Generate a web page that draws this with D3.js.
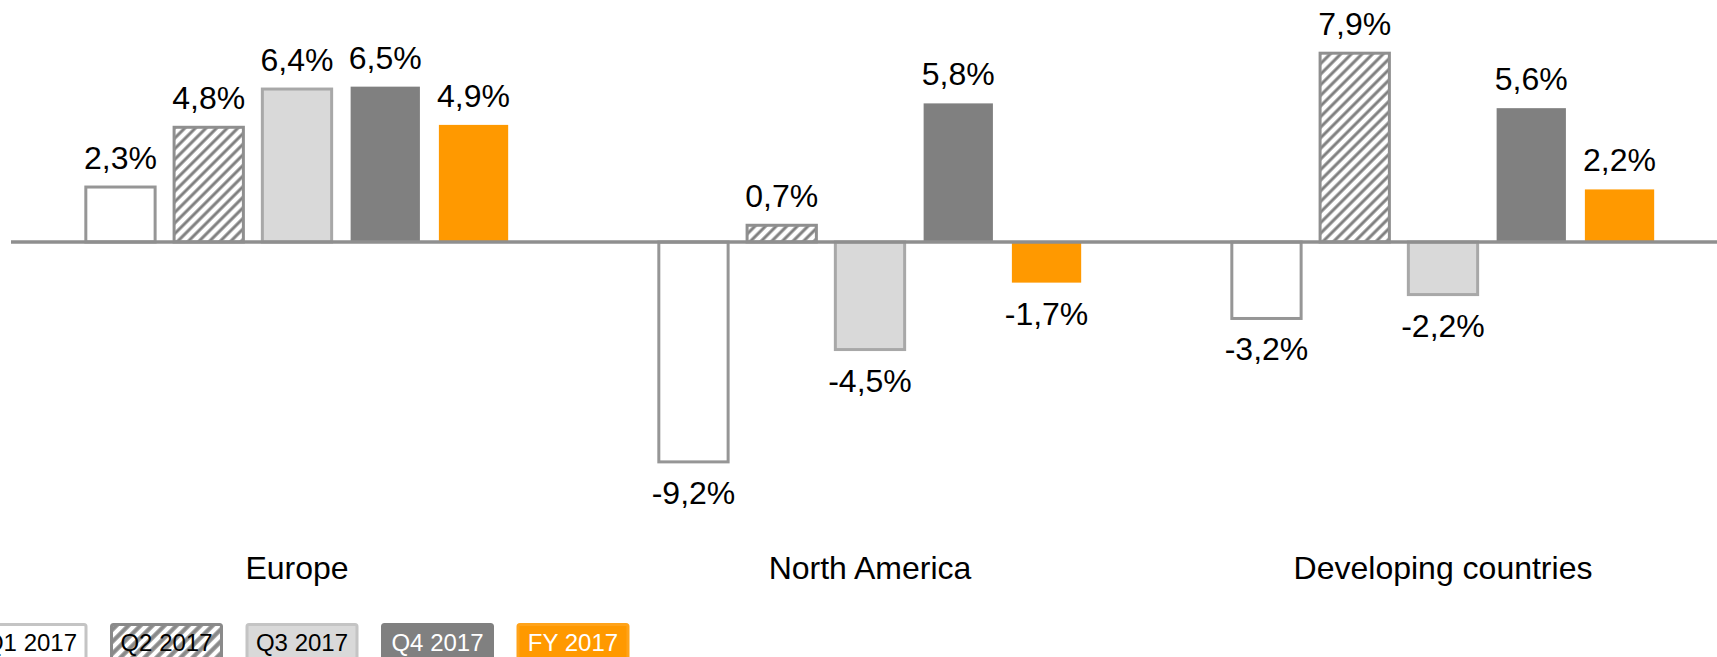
<!DOCTYPE html>
<html>
<head>
<meta charset="utf-8">
<script src="https://cdn.jsdelivr.net/npm/d3@7/dist/d3.min.js"></script>
<style>
  html, body { margin: 0; padding: 0; background: #ffffff; overflow: hidden; }
  svg { display: block; font-family: "Liberation Sans", Arial, sans-serif; }
</style>
</head>
<body>
<svg id="chart" width="1717" height="657"></svg>
<script>
// Regions on the category axis
const regions = ["Europe", "North America", "Developing countries"];
// Reporting periods (one bar per period within each region)
const periods = ["Q1 2017", "Q2 2017", "Q3 2017", "Q4 2017", "FY 2017"];
// Growth in percent, one array per period, ordered like `regions`
const q1_2017 = [2.3, -9.2, -3.2];
const q2_2017 = [4.8, 0.7, 7.9];
const q3_2017 = [6.4, -4.5, -2.2];
const q4_2017 = [6.5, 5.8, 5.6];
const fy_2017 = [4.9, -1.7, 2.2];
const seriesValues = [q1_2017, q2_2017, q3_2017, q4_2017, fy_2017];

const W = 1717, H = 657;
const svg = d3.select("#chart");

// Bar styles per period
const styles = [
  { fill: "#ffffff", stroke: "#969696", sw: 3, legendStroke: "#c4c4c4", text: "#000000" },
  { fill: "url(#hatchBar)", stroke: "#8f8f8f", sw: 3, legendFill: "url(#hatchLegend)", legendStroke: "#8a8a8a", text: "#000000" },
  { fill: "#d9d9d9", stroke: "#a8a8a8", sw: 3, legendStroke: "#c4c4c4", text: "#000000" },
  { fill: "#808080", stroke: "none", sw: 0, legendStroke: "#808080", text: "#ffffff" },
  { fill: "#ff9900", stroke: "none", sw: 0, legendStroke: "#ffa31a", text: "#ffffff" }
];

// Diagonal hatch patterns
const defs = svg.append("defs");
function hatch(id, spacing, width, color) {
  const p = defs.append("pattern")
    .attr("id", id)
    .attr("patternUnits", "userSpaceOnUse")
    .attr("width", spacing)
    .attr("height", spacing)
    .attr("patternTransform", "rotate(45)");
  p.append("rect").attr("width", spacing).attr("height", spacing).attr("fill", "#ffffff");
  p.append("line")
    .attr("x1", spacing / 2).attr("y1", 0)
    .attr("x2", spacing / 2).attr("y2", spacing)
    .attr("stroke", color).attr("stroke-width", width);
}
hatch("hatchBar", 7.5, 3, "#7f7f7f");
hatch("hatchLegend", 8.5, 4.2, "#8a8a8a");

// Scales
const x0 = d3.scaleBand().domain(regions).range([10.5, 1729.5]);
const x1 = d3.scaleBand().domain(periods).range([0, 440]).paddingInner(0.215).paddingOuter(0.1);
const y = d3.scaleLinear().domain([-10, 10]).range([481, 3]);

// Flatten into drawable records
const records = [];
regions.forEach((r, ri) => {
  periods.forEach((p, pi) => {
    records.push({ region: r, period: p, pi: pi, value: seriesValues[pi][ri] });
  });
});

const groupLeft = r => x0(r) + x0.bandwidth() / 2 - 220;

// Bars
svg.append("g").selectAll("rect")
  .data(records)
  .join("rect")
  .attr("x", d => groupLeft(d.region) + x1(d.period))
  .attr("y", d => y(Math.max(0, d.value)))
  .attr("width", x1.bandwidth())
  .attr("height", d => Math.abs(y(d.value) - y(0)))
  .attr("fill", d => styles[d.pi].fill)
  .attr("stroke", d => styles[d.pi].stroke)
  .attr("stroke-width", d => styles[d.pi].sw);

// Zero axis line
svg.append("line")
  .attr("x1", 11).attr("x2", W)
  .attr("y1", y(0)).attr("y2", y(0))
  .attr("stroke", "#8f8f8f")
  .attr("stroke-width", 3.5);

// Value labels
const fmt = v => d3.format(".1f")(v).replace(".", ",").replace("\u2212", "-") + "%";
svg.append("g").selectAll("text")
  .data(records)
  .join("text")
  .attr("x", d => groupLeft(d.region) + x1(d.period) + x1.bandwidth() / 2)
  .attr("y", d => d.value >= 0 ? y(d.value) - 18 : y(d.value) + 42)
  .attr("text-anchor", "middle")
  .attr("font-size", 32)
  .attr("fill", "#000000")
  .text(d => fmt(d.value));

// Category labels
svg.append("g").selectAll("text")
  .data(regions)
  .join("text")
  .attr("x", d => x0(d) + x0.bandwidth() / 2)
  .attr("y", 578.5)
  .attr("text-anchor", "middle")
  .attr("font-size", 32)
  .attr("fill", "#000000")
  .text(d => d);

// Legend
const legendStep = 135.5, legendW = 110, legendX0 = -24, legendTop = 624.5;
const lg = svg.append("g").selectAll("g")
  .data(periods)
  .join("g")
  .attr("transform", (d, i) => `translate(${legendX0 + i * legendStep},${legendTop})`);
lg.append("rect")
  .attr("width", legendW)
  .attr("height", 44)
  .attr("rx", 2)
  .attr("fill", (d, i) => styles[i].legendFill || styles[i].fill)
  .attr("stroke", (d, i) => styles[i].legendStroke)
  .attr("stroke-width", 3);
lg.append("text")
  .attr("x", legendW / 2)
  .attr("y", 26.5)
  .attr("text-anchor", "middle")
  .attr("font-size", 24)
  .attr("fill", (d, i) => styles[i].text)
  .text(d => d);
</script>
</body>
</html>
